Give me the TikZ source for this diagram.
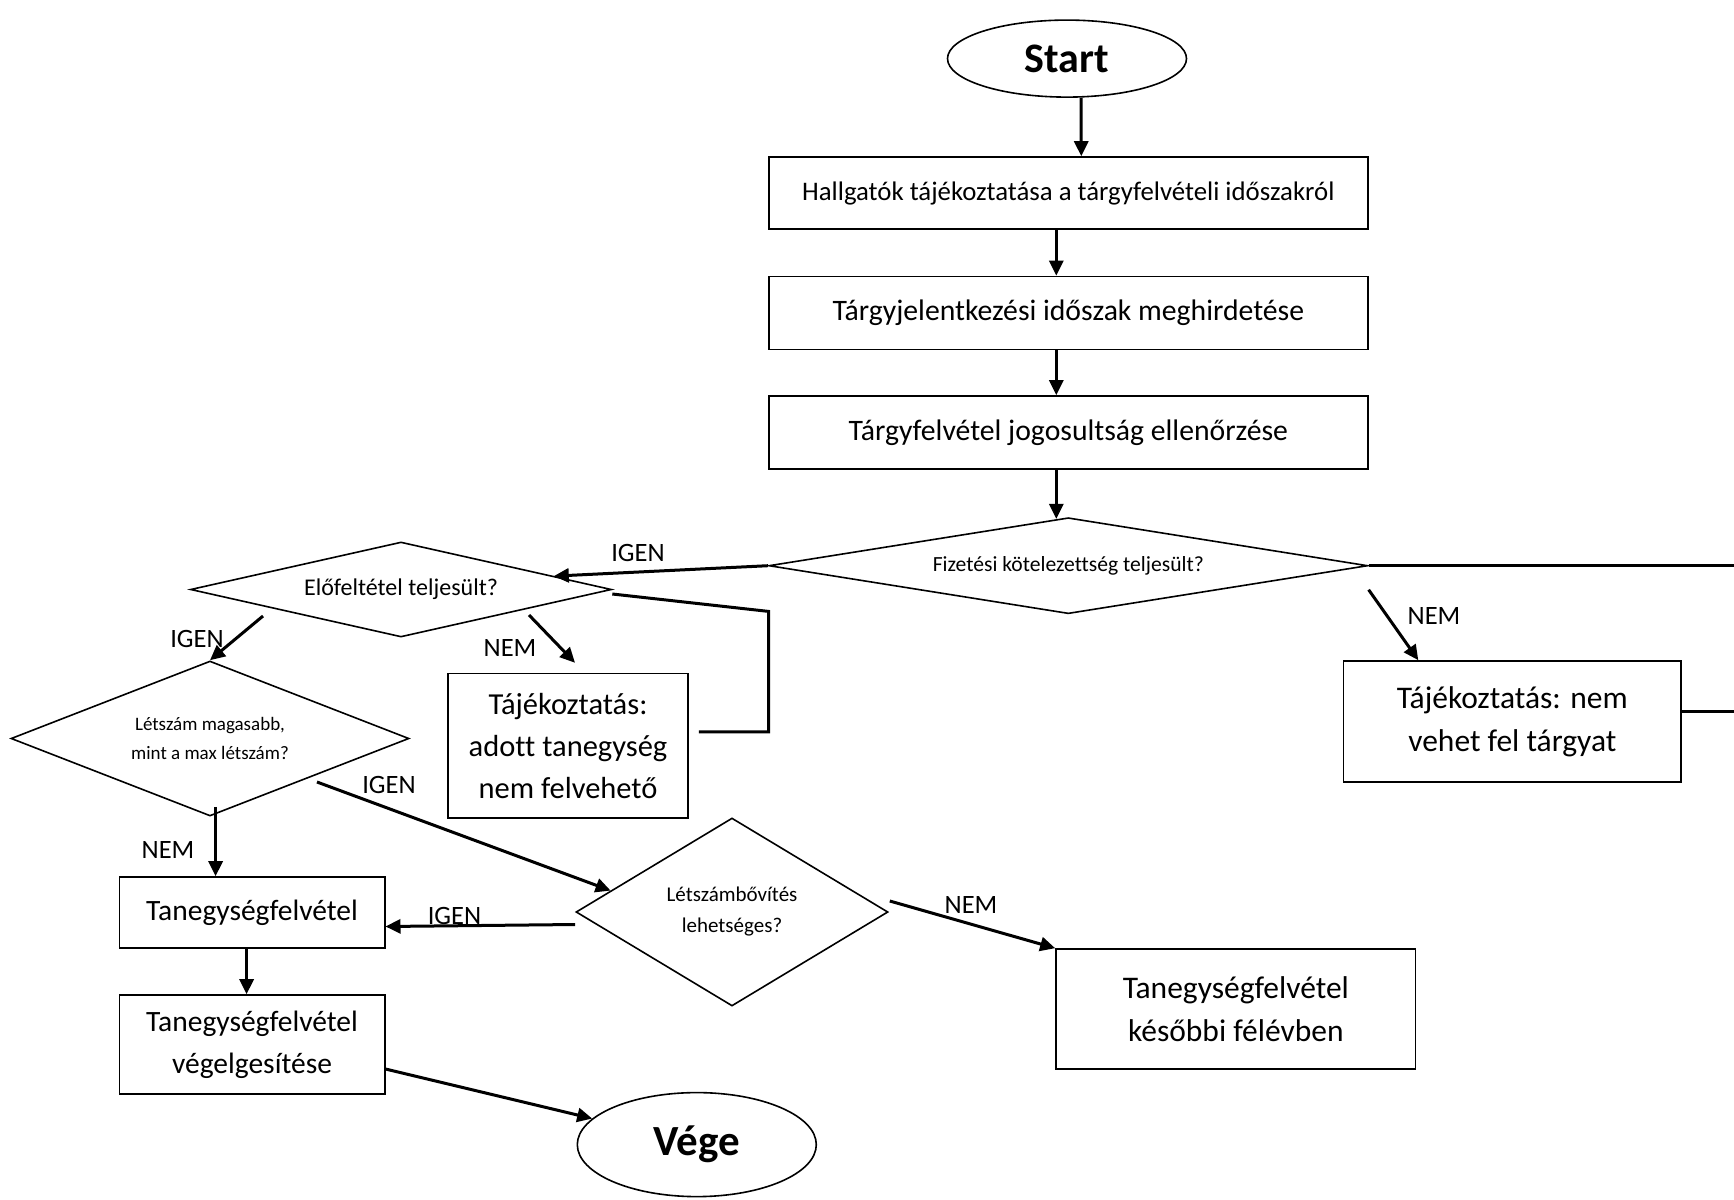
\documentclass[tikz,border=0pt]{standalone}
\usepackage{fontspec}
\setmainfont{Carlito}[RawFeature={-liga;-clig;-calt}]
\usetikzlibrary{shapes.geometric,arrows.meta,calc}
\tikzset{
 box/.style={draw, line width=1.6pt, rectangle, inner sep=0pt, align=center},
 term/.style={draw, line width=1.6pt, ellipse, inner sep=0pt, font=\fontsize{42}{48}\selectfont\bfseries},
 dec/.style={draw, line width=1.6pt, diamond, inner sep=0pt, align=center},
 arr/.style={line width=3pt, -{Triangle[length=15pt,width=14pt]}},
 lnk/.style={line width=3pt},
 lab/.style={font=\fontsize{26.5}{30}\selectfont, inner sep=0pt},
}
\begin{document}
\begin{tikzpicture}[x=1pt,y=-1pt]
\fill[white] (0,0) rectangle (1734,1199);
\useasboundingbox (0,0) rectangle (1734,1199);

% nodes
\node[term, minimum width=239pt, minimum height=77pt] (start) at (1067,58.6) {Start};
\node[box, minimum width=599pt, minimum height=72pt, font=\fontsize{26.8}{32}\selectfont] (b1) at (1068.3,193) {Hallgatók tájékoztatása a tárgyfelvételi időszakról};
\node[box, minimum width=599pt, minimum height=73pt, font=\fontsize{29.7}{35}\selectfont] (b2) at (1068.3,313) {Tárgyjelentkezési időszak meghirdetése};
\node[box, minimum width=599pt, minimum height=73pt, font=\fontsize{29.7}{35}\selectfont] (b3) at (1068.3,432.5) {Tárgyfelvétel jogosultság ellenőrzése};
\node[dec, minimum width=599pt, minimum height=96pt, aspect=6.2, font=\fontsize{21.6}{26}\selectfont] (d1) at (1068.3,565.7) {Fizetési kötelezettség teljesült?};
\node[dec, minimum width=421pt, minimum height=95pt, aspect=4.4, font=\fontsize{24}{28}\selectfont] (d2) at (401,589.5) {Előfeltétel teljesült?};
\node[dec, minimum width=398pt, minimum height=155pt, aspect=2.57, font=\fontsize{19}{29}\selectfont] (d3) at (210,738.5) {Létszám magasabb,\\ mint a max létszám?};
\node[dec, minimum width=312pt, minimum height=188pt, aspect=1.66, font=\fontsize{21}{31}\selectfont] (d4) at (732,912) {Létszámbővítés\\ lehetséges?};
\node[box, minimum width=240pt, minimum height=144.5pt, font=\fontsize{30.5}{42}\selectfont] (tj1) at (568,745.8) {Tájékoztatás:\\ adott tanegység\\ nem felvehető};
\node[box, minimum width=337.4pt, minimum height=121pt, font=\fontsize{31.5}{43}\selectfont] (tj2) at (1512.3,721.5) {Tájékoztatás: nem\\ vehet fel tárgyat};
\node[box, minimum width=265.4pt, minimum height=71pt, font=\fontsize{29.5}{42}\selectfont] (tf) at (252,912.5) {Tanegységfelvétel};
\node[box, minimum width=265.4pt, minimum height=99pt, font=\fontsize{29.5}{42}\selectfont] (tv) at (252,1044.5) {Tanegységfelvétel\\ végelgesítése};
\node[box, minimum width=359.6pt, minimum height=120pt, font=\fontsize{31.5}{43}\selectfont] (tk) at (1235.8,1009) {Tanegységfelvétel\\ későbbi félévben};
\node[term, minimum width=239pt, minimum height=104pt, font=\fontsize{43}{48}\selectfont\bfseries] (vege) at (696.8,1144.6) {Vége};

\coordinate (rE1) at (1734,565.7);
\coordinate (rE2) at (1734,711);

% labels
\node[lab] (l1) at (638,553) {IGEN};
\node[lab] (l2) at (1434,616) {NEM};
\node[lab] (l3) at (197,639) {IGEN};
\node[lab] (l4) at (510,648) {NEM};
\node[lab] (l5) at (168,850) {NEM};
\node[lab] (l6) at (389,785) {IGEN};
\node[lab] (l7) at (454.5,915.7) {IGEN};
\node[lab] (l8) at (971,904.6) {NEM};

% connectors
\draw[arr] ([xshift=14pt]start.south) -- ([xshift=13pt]b1.north);
\draw[arr] ([xshift=-12pt]b1.south) -- ([xshift=-12pt]b2.north);
\draw[arr] ([xshift=-12pt]b2.south) -- ([xshift=-12pt]b3.north);
\draw[arr] ([xshift=-12pt]b3.south) -- ([xshift=-12pt,yshift=-2pt]d1.north);
\draw[arr] (d1.west) -- (d2.5);
\draw[lnk] (d1.east) -- (rE1);
\draw[arr] ([yshift=-24pt]d1.east) -- ([xshift=-94pt]tj2.north);
\draw[lnk] ([yshift=10.5pt]tj2.east) -- (rE2);
\draw[arr] ([xshift=-138pt,yshift=-26.5pt]d2.center) -- (d3.north);
\draw[arr] ([xshift=128pt,yshift=-25.5pt]d2.center) -- ([xshift=7pt,yshift=10pt]tj1.north);
\draw[lnk, line join=miter] ([xshift=10pt,yshift=14pt]tj1.east) -- ++(69.7,0) -- ++(0,-120.4) -- ([yshift=-4.5pt]d2.east);
\draw[arr] ([xshift=5.6pt,yshift=10pt]d3.south) -- ([xshift=-36.4pt]tf.north);
\draw[arr] ([xshift=107pt,yshift=-43.5pt]d3.center) -- (d4.170);
\draw[arr] ([yshift=-12.5pt]d4.west) -- ([yshift=-14pt]tf.east);
\draw[arr] ([xshift=1pt,yshift=11pt]d4.east) -- (tk.north west);
\draw[arr] ([xshift=-5.4pt]tf.south) -- ([xshift=-5.4pt]tv.north);
\draw[arr] ([yshift=-24.5pt]tv.east) -- (vege.166);
\end{tikzpicture}
\end{document}
